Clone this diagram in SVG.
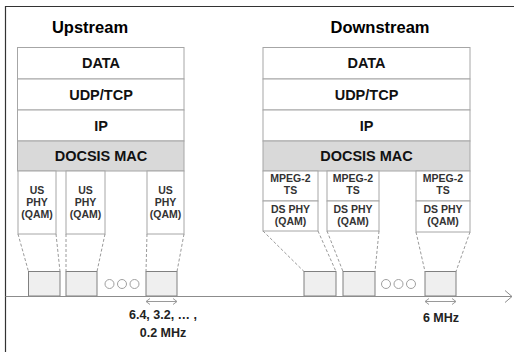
<svg xmlns="http://www.w3.org/2000/svg" width="514" height="352" viewBox="0 0 514 352">
<style>
text{font-family:"Liberation Sans",Arial,sans-serif;font-weight:bold;text-anchor:middle}
.title{font-size:16.5px;fill:#000}
.layer{fill:#fff;stroke:#a6a6a6;stroke-width:1}
.mac{fill:#d9d9d9;stroke:#a6a6a6;stroke-width:1}
.lt{font-size:14.5px;fill:#111}
.phy{fill:#fff;stroke:#a6a6a6;stroke-width:1}
.pt{font-size:10.5px;fill:#333}
.ch{fill:#efefef;stroke:#808080;stroke-width:1}
.dash{stroke:#9a9a9a;stroke-width:1;stroke-dasharray:3,2;fill:none}
.dot{fill:#fff;stroke:#a0a0a0;stroke-width:1}
.ax{stroke:#8c8c8c;stroke-width:1;fill:none}
.dim{stroke:#9a9a9a;stroke-width:1;fill:none}
.bt{font-size:12.5px;fill:#222}
</style>
<rect width="514" height="352" fill="#fff"/>
<path d="M5.5,352 V6.5 H514" fill="none" stroke="#333" stroke-width="1.2"/>

<g id="upstream">
<text class="title" x="90" y="33">Upstream</text>
<g id="us-data"><rect class="layer" x="17.5" y="47.5" width="166.5" height="31.5"/><text class="lt" x="101" y="68">DATA</text></g>
<g id="us-udp"><rect class="layer" x="17.5" y="79" width="166.5" height="31"/><text class="lt" x="101" y="100">UDP/TCP</text></g>
<g id="us-ip"><rect class="layer" x="17.5" y="110" width="166.5" height="31"/><text class="lt" x="101" y="131">IP</text></g>
<g id="us-mac"><rect class="mac" x="17.5" y="141" width="166.5" height="30"/><text class="lt" x="101" y="161">DOCSIS MAC</text></g>
<g id="us-phy1"><rect class="phy" x="18" y="171" width="38" height="63"/><text class="pt" x="37" y="194">US</text><text class="pt" x="37" y="206">PHY</text><text class="pt" x="37" y="218">(QAM)</text></g>
<g id="us-phy2"><rect class="phy" x="66" y="171" width="39" height="63"/><text class="pt" x="85.5" y="194">US</text><text class="pt" x="85.5" y="206">PHY</text><text class="pt" x="85.5" y="218">(QAM)</text></g>
<g id="us-phy3"><rect class="phy" x="147" y="171" width="37" height="63"/><text class="pt" x="165.5" y="194">US</text><text class="pt" x="165.5" y="206">PHY</text><text class="pt" x="165.5" y="218">(QAM)</text></g>
<g id="us-ch1"><rect class="ch" x="28.5" y="271.5" width="31.5" height="24.5"/></g>
<g id="us-ch2"><rect class="ch" x="66" y="271.5" width="31" height="24.5"/></g>
<g id="us-ch3"><rect class="ch" x="146" y="271.5" width="31" height="24.5"/></g>
<g id="us-dots"><circle class="dot" cx="109.5" cy="284" r="4.5"/><circle class="dot" cx="122" cy="284" r="4.5"/><circle class="dot" cx="134.5" cy="284" r="4.5"/></g>
<text class="bt" x="163" y="319">6.4, 3.2, … ,</text>
<text class="bt" x="163" y="337">0.2 MHz</text>
</g>

<g id="downstream">
<text class="title" x="380" y="33">Downstream</text>
<g id="ds-data"><rect class="layer" x="263" y="47.5" width="207" height="31.5"/><text class="lt" x="366.5" y="68">DATA</text></g>
<g id="ds-udp"><rect class="layer" x="263" y="79" width="207" height="31"/><text class="lt" x="366.5" y="100">UDP/TCP</text></g>
<g id="ds-ip"><rect class="layer" x="263" y="110" width="207" height="31"/><text class="lt" x="366.5" y="131">IP</text></g>
<g id="ds-mac"><rect class="mac" x="263" y="141" width="207" height="30"/><text class="lt" x="366.5" y="161">DOCSIS MAC</text></g>
<g id="ds-phy1"><rect class="phy" x="263" y="171" width="55" height="30"/><rect class="phy" x="263" y="201" width="55" height="30"/><text class="pt" x="290.5" y="182">MPEG-2</text><text class="pt" x="290.5" y="194">TS</text><text class="pt" x="290.5" y="213">DS PHY</text><text class="pt" x="290.5" y="225">(QAM)</text></g>
<g id="ds-phy2"><rect class="phy" x="327" y="171" width="52" height="30"/><rect class="phy" x="327" y="201" width="52" height="30"/><text class="pt" x="353" y="182">MPEG-2</text><text class="pt" x="353" y="194">TS</text><text class="pt" x="353" y="213">DS PHY</text><text class="pt" x="353" y="225">(QAM)</text></g>
<g id="ds-phy3"><rect class="phy" x="416" y="171" width="54" height="30"/><rect class="phy" x="416" y="201" width="54" height="31"/><text class="pt" x="443" y="182">MPEG-2</text><text class="pt" x="443" y="194">TS</text><text class="pt" x="443" y="213">DS PHY</text><text class="pt" x="443" y="225">(QAM)</text></g>
<g id="ds-ch1"><rect class="ch" x="304" y="271.5" width="32" height="24.5"/></g>
<g id="ds-ch2"><rect class="ch" x="343" y="271.5" width="32" height="24.5"/></g>
<g id="ds-ch3"><rect class="ch" x="425" y="271.5" width="31" height="24.5"/></g>
<g id="ds-dots"><circle class="dot" cx="386" cy="284" r="4.5"/><circle class="dot" cx="398.5" cy="284" r="4.5"/><circle class="dot" cx="411" cy="284" r="4.5"/></g>
<text class="bt" x="441" y="322">6 MHz</text>
</g>

<g id="connectors">
<path class="dash" d="M18,234 L28.5,271.5 M56,234 L60,271.5 M66,234 L66,271.5 M105,234 L97,271.5 M147,234 L146,271.5 M184,234 L177,271.5"/>
<path class="dash" d="M263,231 L304,271.5 M318,231 L336,271.5 M327,231 L343,271.5 M379,231 L375,271.5 M416,232 L425,271.5 M470,232 L456,271.5"/>
<path class="ax" d="M5.5,296.5 H512 M505,290.5 L512,296.5 L505,302.5"/>
<path class="dim" d="M146,301.5 H177 M150,298.5 L146,301.5 L150,304.5 M173,298.5 L177,301.5 L173,304.5"/>
<path class="dim" d="M425,301.5 H456 M429,298.5 L425,301.5 L429,304.5 M452,298.5 L456,301.5 L452,304.5"/>
</g>
</svg>
